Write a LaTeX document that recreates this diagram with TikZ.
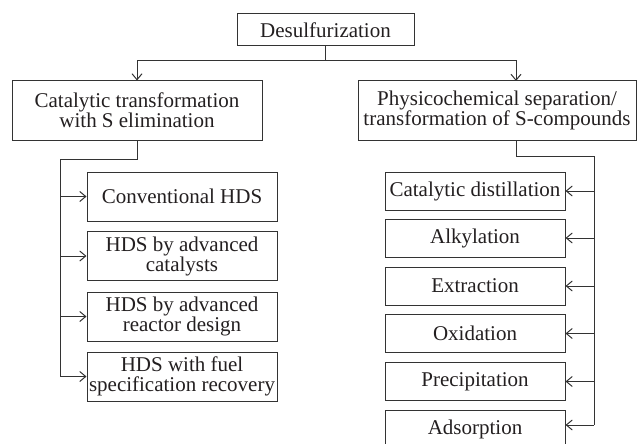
\documentclass[tikz,border=0pt]{standalone}
\usepackage{fontspec}
\setmainfont{Liberation Serif}
\usetikzlibrary{arrows.meta,calc}
\definecolor{ln}{HTML}{333333}
\definecolor{tx}{HTML}{231F20}
\tikzset{
  box/.style={draw=ln, line width=1pt, rectangle, inner sep=0pt, align=center,
              text=tx, font=\fontsize{21}{20}\selectfont},
  conn/.style={draw=ln, line width=1pt},
  arr/.style={conn, -{Straight Barb[length=6pt,width=10pt,line width=1pt]}}
}
\begin{document}
\begin{tikzpicture}[x=1pt,y=-1pt]
\useasboundingbox (0,0) rectangle (638,444);
% top
\node[box, minimum width=177pt, minimum height=32pt] (top) at (325.5,30) {Desulfurization};
\node[box, minimum width=250pt, minimum height=59pt] (cat) at (137,110.5) {Catalytic transformation\\with S elimination};
\node[box, minimum width=278pt, minimum height=59pt] (phys) at (497,110.5) {Physicochemical separation/\\transformation of S-compounds};
% left children
\node[box, minimum width=190pt, minimum height=49pt] (c1) at (182,196.5) {Conventional HDS};
\node[box, minimum width=190pt, minimum height=49pt] (c2) at (182,256) {HDS by advanced\\catalysts};
\node[box, minimum width=190pt, minimum height=49pt] (c3) at (182,316.5) {HDS by advanced\\reactor design};
\node[box, minimum width=190pt, minimum height=49pt] (c4) at (182,376.5) {HDS with fuel\\specification recovery};
% right children
\node[box, minimum width=180pt, minimum height=38pt] (d1) at (475,191) {Catalytic distillation};
\node[box, minimum width=180pt, minimum height=38pt] (d2) at (475,238) {Alkylation};
\node[box, minimum width=180pt, minimum height=38pt] (d3) at (475,286) {Extraction};
\node[box, minimum width=180pt, minimum height=38pt] (d4) at (475,333.5) {Oxidation};
\node[box, minimum width=180pt, minimum height=38pt] (d5) at (475,381.5) {Precipitation};
\node[box, minimum width=180pt, minimum height=38pt] (d6) at (475,429) {Adsorption};
% top connectors
\coordinate (j0) at (top.south |- 0,61);
\coordinate (pin) at (516,81);
\draw[conn] (top.south) -- (j0);
\draw[arr] (j0) -| (cat.north);
\draw[arr] (j0) -| (pin);
% left bus
\coordinate (lb) at (60,159);
\draw[conn] (cat.south) |- (lb) -- (lb |- c4.west);
\foreach \n in {c1,c2,c3,c4} \draw[arr] (lb |- \n.west) -- (\n.west);
% right bus
\coordinate (pout) at (516,140);
\coordinate (rb) at (594,156);
\coordinate (d6in) at ($(d6.east)+(0,-4)$);
\draw[conn] (pout) |- (rb) -- (rb |- d6in);
\foreach \n in {d1,d2,d3,d4,d5} \draw[arr] (rb |- \n.east) -- (\n.east);
\draw[arr] (rb |- d6in) -- (d6in);
\end{tikzpicture}
\end{document}
